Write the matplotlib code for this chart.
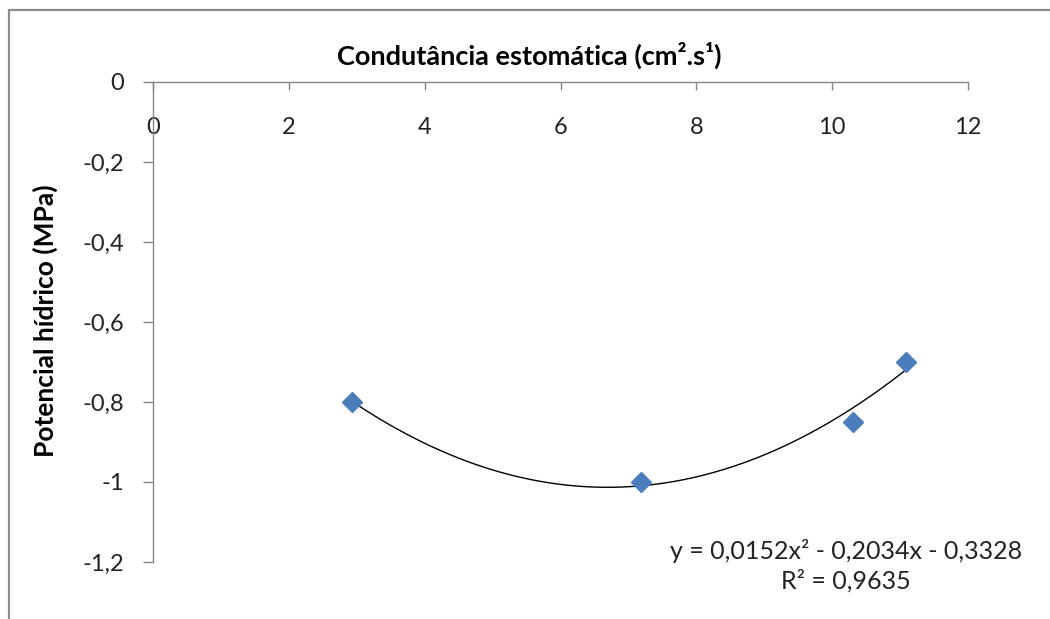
import numpy as np
import matplotlib
matplotlib.use("Agg")
import matplotlib.pyplot as plt
from matplotlib.patches import Rectangle

# Data
condutancia = [2.93, 7.18, 10.30, 11.08]
potencial = [-0.80, -1.00, -0.85, -0.70]
coef = [0.0152, -0.2034, -0.3328]   # trendline y = a x^2 + b x + c
x_ticks = [0, 2, 4, 6, 8, 10, 12]
y_ticks = [0, -0.2, -0.4, -0.6, -0.8, -1.0, -1.2]
y_tick_labels = ["0", "-0,2", "-0,4", "-0,6", "-0,8", "-1", "-1,2"]
title = "Condutância estomática (cm².s¹)"
ylabel = "Potencial hídrico (MPa)"
eq_text = "y = 0,0152x² - 0,2034x - 0,3328\nR² = 0,9635"

plt.rcParams['font.family'] = ['Lato', 'DejaVu Sans']

fig = plt.figure(figsize=(10.5, 6.19), dpi=100)
fig.patch.set_facecolor('white')
fig.patches.append(Rectangle((9/1050, -0.1), 1.2, 1 - 10/619 + 0.1, transform=fig.transFigure,
                             fill=False, edgecolor='#8c8c8c', linewidth=1.6))

ax = fig.add_axes([153/1050, 1 - 562/619, (968 - 153)/1050, 480/619])
ax.set_xlim(0, 12)
ax.set_ylim(-1.2, 0)

axis_color = '#868686'
for s in ['right', 'top']:
    ax.spines[s].set_visible(False)
ax.spines['bottom'].set_position(('data', 0))
ax.spines['bottom'].set_color(axis_color)
ax.spines['left'].set_color(axis_color)
ax.spines['bottom'].set_linewidth(1.0)
ax.spines['left'].set_linewidth(1.0)

ax.set_xticks(x_ticks)
ax.set_xticklabels([str(v) for v in x_ticks])
ax.set_yticks(y_ticks)
ax.set_yticklabels(y_tick_labels)
ax.tick_params(axis='x', direction='out', length=6, width=1.0, color=axis_color,
               labelsize=17, pad=19, labelcolor='#222222')
ax.tick_params(axis='y', direction='out', length=7, width=1.0, color=axis_color,
               labelsize=17, pad=14, labelcolor='#222222')

xs = np.linspace(min(condutancia), max(condutancia), 200)
ys = np.polyval(coef, xs)
ax.plot(xs, ys, color='black', linewidth=1.0, zorder=2)
ax.plot(condutancia, potencial, linestyle='none', marker='D', markersize=10,
        color='#4a7ebb', markeredgecolor='#4a7ebb', zorder=3, clip_on=False)

fig.text(529/1050, 1 - 55/619, title, ha='center', va='center', fontsize=19.5,
         fontweight='bold', color='black')
fig.text(45/1050, 1 - 321/619, ylabel, ha='center', va='center', rotation=90,
         fontsize=19, fontweight='bold', color='black')
fig.text(846/1050, 1 - 566/619, eq_text, ha='center', va='center', fontsize=18,
         color='#222222', linespacing=1.3)

fig.savefig('out.png', dpi=100)
